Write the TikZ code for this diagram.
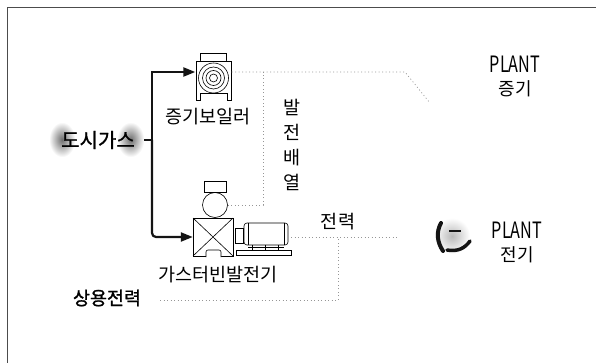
\documentclass[tikz,border=0pt]{standalone}
\usepackage{fontspec}
\setmainfont{Noto Sans CJK KR}
\newfontfamily\krbold[FakeBold=1.2]{Noto Sans CJK KR}
\usetikzlibrary{arrows.meta, calc}
\definecolor{pipeblack}{RGB}{20, 20, 20}
\definecolor{dotgray}{RGB}{150, 150, 150}
\definecolor{hazegray}{RGB}{110, 110, 110}

\tikzset{
    pipe/.style={line width=2.2pt, draw=pipeblack, -{Triangle[length=12pt, width=9pt]}},
    utility/.style={draw=dotgray, line width=0.7pt, dash pattern=on 1pt off 2.5pt},
    part/.style={draw=black, line width=0.6pt},
    krtext/.style={font=\fontsize{18.5}{18.5}\selectfont, inner sep=0pt},
    plant/.style={font=\fontsize{18}{23}\selectfont, inner sep=0pt, align=center},
    haze/.style={inner color=hazegray, outer color=white},
    unit/.style={inner sep=0pt},
}

\begin{document}
\begin{tikzpicture}[x=1pt, y=-1pt]
    \useasboundingbox (0, 0) rectangle (596, 363);
    \draw[line width=1pt, gray!60!black] (7, 363) -- (7, 8) -- (596, 8);

    % boiler
    \node[unit, minimum width=36pt, minimum height=40pt] (boiler) at (213.5, 72) {};
    \draw[part] (200, 53) rectangle (226, 61);
    \draw[part, fill=white] (196, 61) -- (231, 61) -- (231, 100) -- (227, 100) -- (227, 93)
        -- (200, 93) -- (200, 100) -- (196, 100) -- cycle;
    \foreach \r in {15, 11, 7.5, 4}
        \draw[part] (213.5, 78) circle[radius=\r pt];

    % gas turbine and generator
    \node[unit, minimum width=40pt, minimum height=38pt] (turbine) at (213, 237) {};
    \node[unit, part, circle, minimum size=25pt] (exhaust) at (215, 205) {};
    \draw[part] (204, 181) rectangle (226, 192.5);
    \draw[part] (193, 218) rectangle (233, 256);
    \draw[part] (193, 218) -- (233, 256) (233, 218) -- (193, 256);
    \draw[part, fill=white, rounded corners=2pt] (206, 257) -- (206, 250) -- (221, 250) -- (221, 257);
    \node[unit, minimum width=56pt, minimum height=34pt] (genset) at (263, 237) {};
    \draw[part] (235, 228) rectangle (243, 243);
    \draw[part, rounded corners=3pt] (244, 223) rectangle (288, 245);
    \draw[part] (248, 223) -- (248, 245) (284, 223) -- (284, 245);
    \draw[part] (236, 250) rectangle (291, 255);
    \foreach \x in {252, 265, 278}
        \draw[part] (\x, 245) -- (\x, 250);
    \draw[part] (248, 247.5) -- (284, 247.5);

    % plant power icon
    \node[unit, minimum size=36pt] (plug) at (452, 236) {};
    \shade[inner color=gray!55, outer color=white] (452, 236) circle[radius=18pt];
    \draw[line width=4pt, pipeblack, line cap=round] (441, 223) .. controls (436, 232) and (437, 242) .. (443, 251);
    \draw[line width=2.5pt, pipeblack] (449, 231) -- (461, 231);
    \draw[line width=3.5pt, pipeblack, line cap=round] (447, 250) .. controls (458, 252) and (465, 248) .. (470, 241);

    % labels
    \shade[haze] (49, 122) rectangle (75, 157);
    \shade[haze] (117, 122) rectangle (144, 157);
    \node[unit, minimum width=92pt, minimum height=32pt]
        (gas) at (98, 140) {\krbold\fontsize{20}{20}\selectfont 도시가스};
    \node[krtext] (boilerlabel) at (208, 117) {증기보일러};
    \node[krtext, align=center, font=\fontsize{18.5}{25}\selectfont] (heatlabel) at (292, 145) {발\\전\\배\\열};
    \node[krtext] (turbinelabel) at (218, 275) {가스터빈발전기};
    \node[krtext] (powerlabel) at (338, 222) {전력};
    \node[krtext, font=\krbold\fontsize{18.5}{18.5}\selectfont] (grid) at (107, 298) {상용전력};
    \node[plant] (steamplant) at (515, 76) {\scalebox{0.9}[1.25]{PLANT}\\증기};
    \node[plant] (powerplant) at (517, 242) {\scalebox{0.9}[1.25]{PLANT}\\전기};

    % gas supply
    \coordinate (split) at (152, 140);
    \draw[line width=2.2pt, pipeblack] (gas.east) -- (split);
    \draw[pipe] (split) |- (boiler.west);
    \draw[pipe, rounded corners=4pt] (split) |- (turbine.west);

    % steam, heat and power lines
    \coordinate (heatjoin) at (263, 72);
    \coordinate (steambend) at (405, 72);
    \coordinate (steamend) at (430, 103);
    \draw[utility] (boiler.east) -- (steambend) -- (steamend);
    \draw[utility] (exhaust.east) -| (heatjoin);
    \coordinate (powerend) at (397, 237);
    \draw[utility] (genset.east) -- (powerend);
    \coordinate (gridstart) at (160, 300);
    \coordinate (gridjoin) at (338, 237);
    \draw[utility] (gridstart) -| (gridjoin);
\end{tikzpicture}
\end{document}
